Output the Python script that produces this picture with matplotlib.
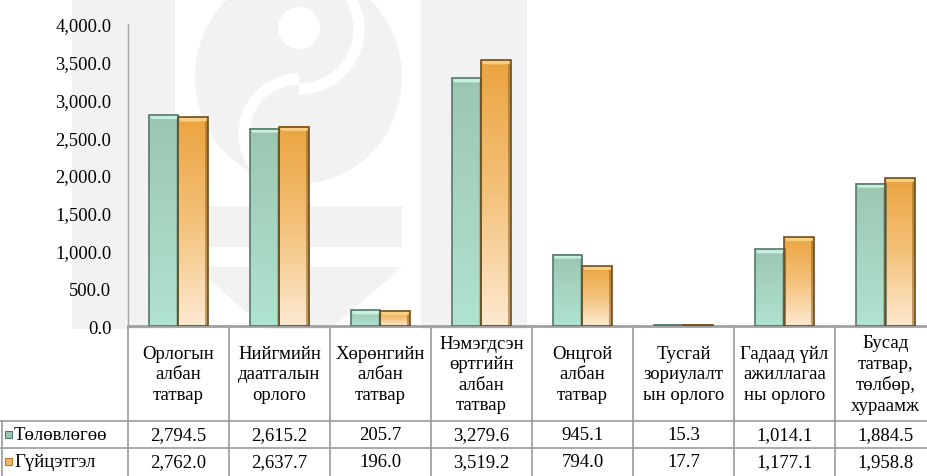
import numpy as np
import matplotlib
matplotlib.use("Agg")
import matplotlib.pyplot as plt
from matplotlib.colors import LinearSegmentedColormap
from matplotlib.patches import Rectangle, Ellipse, Polygon, Circle, Arc

categories = ["Орлогын\nалбан\nтатвар", "Нийгмийн\nдаатгалын\nорлого", "Хөрөнгийн\nалбан\nтатвар",
              "Нэмэгдсэн\nөртгийн\nалбан\nтатвар", "Онцгой\nалбан\nтатвар", "Тусгай\nзориулалт\nын орлого",
              "Гадаад үйл\nажиллагаа\nны орлого", "Бусад\nтатвар,\nтөлбөр,\nхураамж"]
series_names = ["Төлөвлөгөө", "Гүйцэтгэл"]
plan = [2794.5, 2615.2, 205.7, 3279.6, 945.1, 15.3, 1014.1, 1884.5]
actual = [2762.0, 2637.7, 196.0, 3519.2, 794.0, 17.7, 1177.1, 1958.8]
yticks = [0, 500, 1000, 1500, 2000, 2500, 3000, 3500, 4000]

plt.rcParams['font.family'] = ['Liberation Serif', 'DejaVu Serif']

W, H = 928, 477
fig = plt.figure(figsize=(W / 100, H / 100), dpi=100)

# background / table axes in pixel coordinates
bg = fig.add_axes([0, 0, 1, 1], zorder=0)
bg.set_xlim(0, W)
bg.set_ylim(H, 0)
bg.axis('off')

wm = '#f2f2f2'
bg.add_patch(Rectangle((72, 0), 103, 330, color=wm, lw=0))
bg.add_patch(Rectangle((421, 0), 106, 330, color=wm, lw=0))
bg.add_patch(Ellipse((298.5, 78), 207, 214, color=wm, lw=0))
bg.add_patch(Arc((299, 30), 120, 120, theta1=270, theta2=90, color='white', lw=8))
bg.add_patch(Arc((299, 135), 110, 110, theta1=90, theta2=270, color='white', lw=8))
bg.add_patch(Circle((299, 29), 21, color='white', lw=0))
bg.add_patch(Rectangle((195, 207), 207, 41, color=wm, lw=0))
bg.add_patch(Polygon([(195, 268), (402, 268), (330, 330), (266, 330)], closed=True, color=wm, lw=0))

# bar axes
x0p, x1p, ytop, ybot = 128, 936, 25, 327
ax = fig.add_axes([x0p / W, (H - ybot) / H, (x1p - x0p) / W, (ybot - ytop) / H], zorder=1)
ax.patch.set_alpha(0)
n = len(categories)
ax.set_xlim(-0.5, n - 0.5)
ax.set_ylim(0, 4000)

cm_g = LinearSegmentedColormap.from_list('g', ['#b0e3d0', '#9cc6b2'])
cm_o = LinearSegmentedColormap.from_list('o', ['#fde9d0', '#f3c27a', '#eba440'])
grad = np.linspace(0, 1, 128).reshape(-1, 1)
bw = 0.29
px = 4000 / (ybot - ytop)
dx = bw / 29.0
styles = [(plan, -bw / 2, cm_g, '#56786b', '#c6efdf', '#7fa897'),
          (actual, bw / 2, cm_o, '#6e4c1c', '#f8cf80', '#9a6a26')]
for vals, off, cmap, edge, hl, shade in styles:
    for i, v in enumerate(vals):
        xl = i + off - bw / 2
        ax.imshow(grad, cmap=cmap, origin='lower', extent=(xl, xl + bw, 0, v), aspect='auto',
                  interpolation='bilinear', zorder=2)
        hh = min(4 * px, v)
        if v > 8 * px:
            ax.add_patch(Polygon([(xl, v), (xl + bw, v), (xl + bw - 2 * dx, v - hh), (xl + 2 * dx, v - hh)],
                                 closed=True, color=hl, lw=0, zorder=3))
            ax.add_patch(Rectangle((xl + bw - 2.5 * dx, 0), 2.5 * dx, v - hh, color=shade, lw=0,
                                   alpha=0.6, zorder=3))
        ax.add_patch(Rectangle((xl, 0), bw, v, fill=False, edgecolor=edge, lw=1.2, zorder=4))
ax.set_xlim(-0.5, n - 0.5)
ax.set_ylim(0, 4000)

for s in ['top', 'right']:
    ax.spines[s].set_visible(False)
ax.spines['left'].set_color('#a6a6a6')
ax.spines['left'].set_linewidth(1.0)
ax.spines['bottom'].set_color('#a0a0a0')
ax.spines['bottom'].set_linewidth(2.0)
ax.set_xticks([])
ax.set_yticks(yticks)
ax.set_yticklabels([f"{t:,.1f}" for t in yticks], fontsize=13.3)
ax.tick_params(axis='y', length=0, pad=12)

# table
fig.canvas.draw()
bounds = [ax.transData.transform((i - 0.5, 0))[0] for i in range(n + 1)]
row1, row2, row3 = 422, 449, 477
lc = '#9a9a9a'
for b in bounds:
    bg.plot([b, b], [ybot, H], color=lc, lw=1.2)
bg.plot([2, 2], [row1, H], color=lc, lw=1.2)
for yy in (row1, row2):
    bg.plot([0, W], [yy, yy], color=lc, lw=1.2)

fs = 13.5
for i, c in enumerate(categories):
    cx = (bounds[i] + bounds[i + 1]) / 2
    bg.text(cx, 375, c, ha='center', va='center', fontsize=fs, linespacing=1.28)
    bg.text(cx, (row1 + row2) / 2 + 0.5, f"{plan[i]:,.1f}", ha='center', va='center', fontsize=fs)
    bg.text(cx, (row2 + row3) / 2 - 0.5, f"{actual[i]:,.1f}", ha='center', va='center', fontsize=fs)

keyc = [('#9cc6b2', '#56786b'), ('#f0b868', '#b07a30')]
for k, (name, yc) in enumerate(zip(series_names, [(row1 + row2) / 2, (row2 + row3) / 2 - 1])):
    bg.add_patch(Rectangle((5, yc - 3.5), 7, 7, facecolor=keyc[k][0], edgecolor=keyc[k][1], lw=0.8))
    bg.text(14, yc + 0.5, name, ha='left', va='center', fontsize=fs)

fig.savefig('out.png', dpi=100)
